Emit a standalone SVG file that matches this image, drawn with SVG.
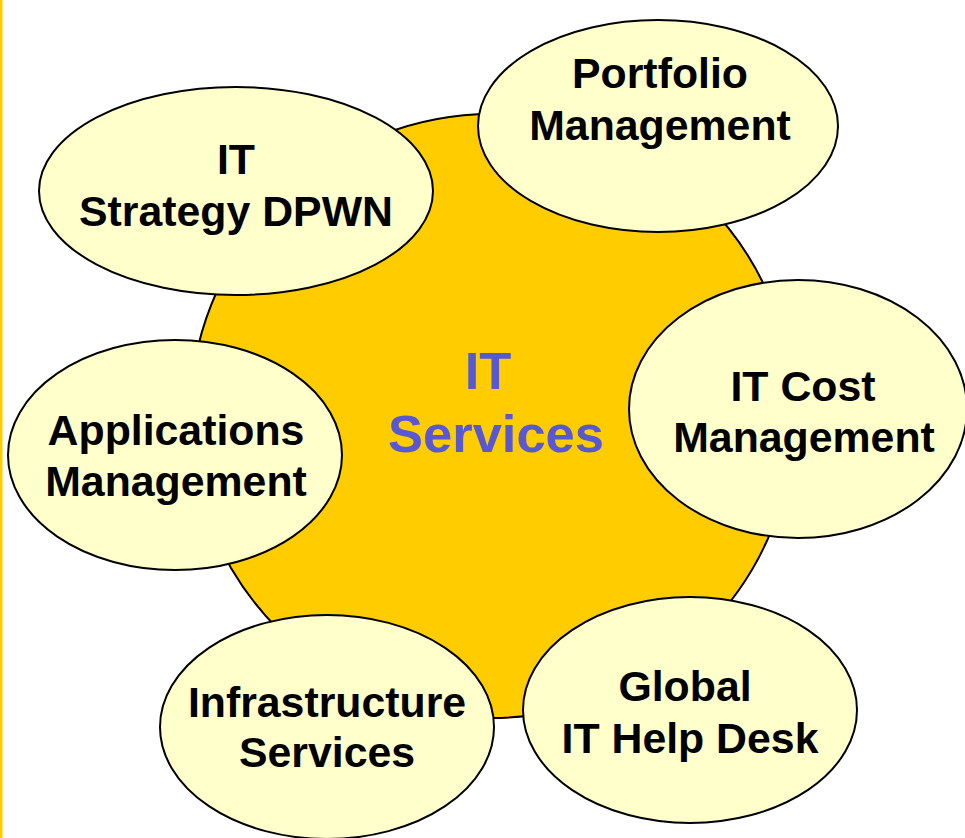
<svg xmlns="http://www.w3.org/2000/svg" width="965" height="838" viewBox="0 0 965 838">
<style>
.node ellipse{fill:#FFFFCC;stroke:#000;stroke-width:2}
.lbl{font-family:"Liberation Sans",Arial,sans-serif;font-weight:bold;font-size:42.8px;fill:#000;text-anchor:middle}
.ctr{font-family:"Liberation Sans",Arial,sans-serif;font-weight:bold;font-size:52.5px;fill:#5858D2;text-anchor:middle}
</style>
<rect x="0" y="0" width="965" height="838" fill="#fff"/>
<rect x="0" y="0" width="2.5" height="838" fill="#FFCC00"/>
<g id="center">
<circle cx="492" cy="416" r="302" fill="#FFCC00" stroke="#000" stroke-width="2"/>
<text class="ctr" x="488" y="389">IT</text>
<text class="ctr" x="496" y="452">Services</text>
</g>
<g id="connectors"></g>
<g id="strategy" class="node">
<ellipse cx="236" cy="191" rx="197" ry="104"/>
<text class="lbl" x="236" y="174">IT</text>
<text class="lbl" x="236" y="226">Strategy DPWN</text>
</g>
<g id="portfolio" class="node">
<ellipse cx="658" cy="126" rx="180" ry="106"/>
<text class="lbl" x="660" y="88">Portfolio</text>
<text class="lbl" x="660" y="140">Management</text>
</g>
<g id="cost" class="node">
<ellipse cx="798" cy="409" rx="169" ry="129"/>
<text class="lbl" x="803" y="401">IT Cost</text>
<text class="lbl" x="804" y="452">Management</text>
</g>
<g id="applications" class="node">
<ellipse cx="175" cy="455" rx="167" ry="115"/>
<text class="lbl" x="176" y="445">Applications</text>
<text class="lbl" x="176" y="496">Management</text>
</g>
<g id="infrastructure" class="node">
<ellipse cx="327" cy="727" rx="167" ry="112"/>
<text class="lbl" x="327" y="717">Infrastructure</text>
<text class="lbl" x="327" y="767">Services</text>
</g>
<g id="helpdesk" class="node">
<ellipse cx="690" cy="710" rx="167" ry="113"/>
<text class="lbl" x="685" y="701">Global</text>
<text class="lbl" x="690" y="753">IT Help Desk</text>
</g>
</svg>
